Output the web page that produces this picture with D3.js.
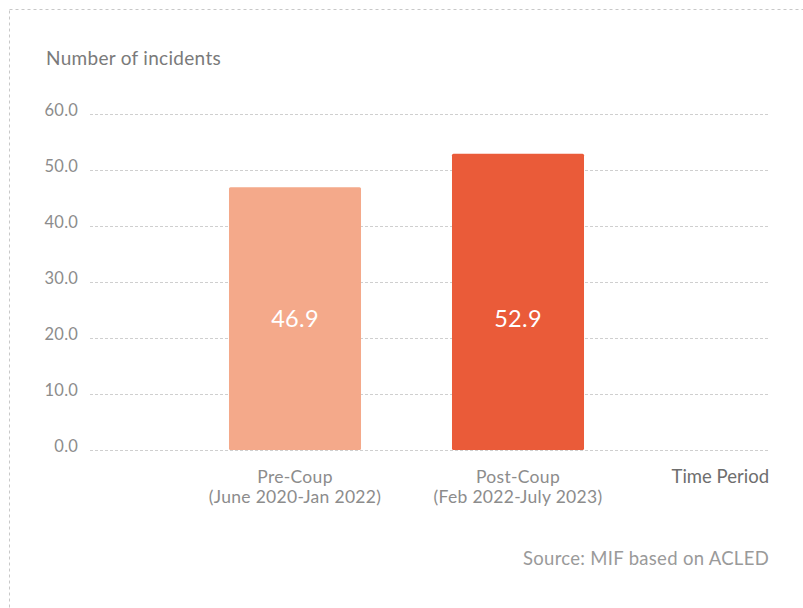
<!DOCTYPE html>
<html><head><meta charset="utf-8">
<script src="https://cdn.jsdelivr.net/npm/d3@7"></script>
<style>body{margin:0;background:#fff;} text{font-family:Lato,sans-serif;font-weight:400;}</style>
</head><body><svg id="c" width="803" height="608"></svg>
<script>
const categories = ["Pre-Coup|(June 2020-Jan 2022)", "Post-Coup|(Feb 2022-July 2023)"];
const values = [46.9, 52.9];
const colors = ["#F4A98A", "#EA5B39"];
const yTicks = [0, 10, 20, 30, 40, 50, 60];

const svg = d3.select("#c");
svg.append("rect").attr("x", 9.5).attr("y", 9.5).attr("width", 820).attr("height", 640)
  .attr("fill", "none").attr("stroke", "#c8c8c8").attr("stroke-dasharray", "3,3");

const y = d3.scaleLinear().domain([0, 60]).range([450, 114]);
const x = d3.scaleBand().domain(categories).range([183.5, 629.5]).paddingInner(0.408).paddingOuter(0.204);

svg.append("g").selectAll("line").data(yTicks).join("line")
  .attr("x1", 90).attr("x2", 770).attr("y1", d => y(d) + 0.5).attr("y2", d => y(d) + 0.5)
  .attr("stroke", "#cfcfcf").attr("stroke-dasharray", "3,2");
svg.append("g").selectAll("text").data(yTicks).join("text")
  .attr("x", 78).attr("y", d => y(d) + 1.5).attr("text-anchor", "end")
  .attr("font-size", 16.5).attr("fill", "#8c8c8c").style("letter-spacing", "0.2px").text(d => d.toFixed(1));

svg.append("g").selectAll("rect").data(values).join("rect")
  .attr("x", (d, i) => x(categories[i])).attr("width", x.bandwidth())
  .attr("y", d => y(d)).attr("height", d => y(0) - y(d))
  .attr("rx", 1.5).attr("fill", (d, i) => colors[i]);
svg.append("g").selectAll("text").data(values).join("text")
  .attr("x", (d, i) => x(categories[i]) + x.bandwidth() / 2).attr("y", 327)
  .attr("text-anchor", "middle").attr("font-size", 23.5).attr("fill", "#fff")
  .style("letter-spacing", "0.3px").text(d => d.toFixed(1));

const cl = svg.append("g").selectAll("text").data(categories).join("text")
  .attr("x", d => x(d) + x.bandwidth() / 2).attr("y", 483).attr("text-anchor", "middle")
  .attr("font-size", 17.5).attr("fill", "#8c8c8c").style("letter-spacing", "0.3px");
cl.each(function(d) {
  const parts = d.split("|");
  d3.select(this).selectAll("tspan").data(parts).join("tspan")
    .attr("x", x(d) + x.bandwidth() / 2).attr("dy", (p, i) => i ? 20 : 0).text(p => p);
});

svg.append("text").attr("x", 769).attr("y", 483).attr("text-anchor", "end")
  .attr("font-size", 18.5).attr("fill", "#6e6e6e").text("Time Period");
svg.append("text").attr("x", 46).attr("y", 65).attr("font-size", 19).attr("fill", "#7a7a7a")
  .style("letter-spacing", "0.3px").text("Number of incidents");
svg.append("text").attr("x", 769).attr("y", 565).attr("text-anchor", "end")
  .attr("font-size", 18.5).attr("fill", "#9a9a9a").style("letter-spacing", "0.3px").text("Source: MIF based on ACLED");
</script></body></html>
